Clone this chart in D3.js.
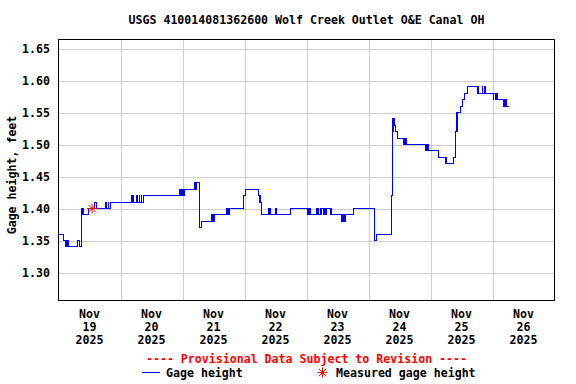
<!DOCTYPE html>
<html>
<head>
<meta charset="utf-8">
<script src="https://cdn.jsdelivr.net/npm/d3@7"></script>
<style>
  html, body { margin: 0; padding: 0; background: #fff; }
  svg { display: block; }
  text { font-family: "DejaVu Sans Mono", monospace; font-weight: bold; font-size: 11.6px; }
</style>
</head>
<body>
<svg id="chart" width="576" height="384"></svg>
<script>
const title = "USGS 410014081362600 Wolf Creek Outlet O&E Canal OH";
const yAxisTitle = "Gage height, feet";
const yTicks = [1.30, 1.35, 1.40, 1.45, 1.50, 1.55, 1.60, 1.65];
const dayLabels = ["2025-11-19", "2025-11-20", "2025-11-21", "2025-11-22", "2025-11-23", "2025-11-24", "2025-11-25", "2025-11-26"];

const gageTimes = [
  "2025-11-19 00:00","2025-11-19 02:00","2025-11-19 02:45","2025-11-19 03:00","2025-11-19 03:15","2025-11-19 03:30",
  "2025-11-19 03:45","2025-11-19 07:30","2025-11-19 08:00","2025-11-19 09:00","2025-11-19 09:30","2025-11-19 11:30",
  "2025-11-19 14:00","2025-11-19 14:45","2025-11-19 18:15","2025-11-19 18:45","2025-11-19 19:15","2025-11-19 19:30",
  "2025-11-19 20:00","2025-11-20 04:15","2025-11-20 04:30","2025-11-20 04:45","2025-11-20 05:00","2025-11-20 06:15",
  "2025-11-20 06:30","2025-11-20 07:15","2025-11-20 07:30","2025-11-20 08:00","2025-11-20 08:15","2025-11-20 08:45",
  "2025-11-20 23:00","2025-11-20 23:15","2025-11-20 23:30","2025-11-20 23:45","2025-11-21 00:00","2025-11-21 00:15",
  "2025-11-21 00:45","2025-11-21 04:45","2025-11-21 05:00","2025-11-21 05:30","2025-11-21 06:30","2025-11-21 07:15",
  "2025-11-21 11:15","2025-11-21 11:30","2025-11-21 11:45","2025-11-21 12:00","2025-11-21 12:30","2025-11-21 17:00",
  "2025-11-21 17:15","2025-11-21 17:30","2025-11-21 17:45","2025-11-21 18:15","2025-11-21 23:30","2025-11-21 23:45",
  "2025-11-22 00:30","2025-11-22 05:15","2025-11-22 06:00","2025-11-22 06:30","2025-11-22 09:30","2025-11-22 10:00",
  "2025-11-22 12:00","2025-11-22 12:30","2025-11-22 17:45","2025-11-23 00:15","2025-11-23 00:30","2025-11-23 00:45",
  "2025-11-23 01:15","2025-11-23 01:30","2025-11-23 04:00","2025-11-23 04:15","2025-11-23 04:30","2025-11-23 04:45",
  "2025-11-23 05:15","2025-11-23 05:30","2025-11-23 05:45","2025-11-23 06:45","2025-11-23 07:00","2025-11-23 07:30",
  "2025-11-23 07:45","2025-11-23 09:15","2025-11-23 09:30","2025-11-23 09:45","2025-11-23 13:45","2025-11-23 14:00",
  "2025-11-23 14:30","2025-11-23 15:00","2025-11-23 18:15","2025-11-24 02:15","2025-11-24 03:00","2025-11-24 08:45",
  "2025-11-24 09:15","2025-11-24 09:30","2025-11-24 10:00","2025-11-24 10:30","2025-11-24 11:15","2025-11-24 13:45",
  "2025-11-24 14:00","2025-11-24 14:30","2025-11-24 22:15","2025-11-24 23:00","2025-11-24 23:15","2025-11-25 03:00",
  "2025-11-25 06:00","2025-11-25 08:45","2025-11-25 09:45","2025-11-25 10:15","2025-11-25 11:30","2025-11-25 12:30",
  "2025-11-25 13:00","2025-11-25 14:15","2025-11-25 18:15","2025-11-25 18:30","2025-11-25 18:45","2025-11-25 20:00",
  "2025-11-25 20:15","2025-11-25 21:00","2025-11-25 21:15","2025-11-26 00:15","2025-11-26 00:30","2025-11-26 01:00",
  "2025-11-26 01:15","2025-11-26 01:45","2025-11-26 04:15","2025-11-26 04:30","2025-11-26 04:45","2025-11-26 05:00",
  "2025-11-26 05:15","2025-11-26 06:30"
];
const gageValues = [
  1.36,1.35,1.34,1.35,1.34,1.35,
  1.34,1.35,1.34,1.40,1.39,1.40,
  1.41,1.40,1.41,1.40,1.41,1.40,
  1.41,1.42,1.41,1.42,1.41,1.42,
  1.41,1.42,1.41,1.42,1.41,1.42,
  1.43,1.42,1.43,1.42,1.43,1.42,
  1.43,1.44,1.43,1.44,1.37,1.38,
  1.39,1.38,1.39,1.38,1.39,1.40,
  1.39,1.40,1.39,1.40,1.41,1.42,
  1.43,1.42,1.41,1.39,1.40,1.39,
  1.40,1.39,1.40,1.39,1.40,1.39,
  1.40,1.39,1.40,1.39,1.40,1.39,
  1.40,1.39,1.40,1.39,1.40,1.39,
  1.40,1.39,1.40,1.39,1.38,1.39,
  1.38,1.39,1.40,1.35,1.36,1.42,
  1.52,1.54,1.53,1.52,1.51,1.50,
  1.51,1.50,1.49,1.50,1.49,1.48,
  1.47,1.48,1.52,1.55,1.56,1.57,
  1.58,1.59,1.58,1.59,1.58,1.59,
  1.58,1.59,1.58,1.57,1.58,1.57,
  1.58,1.57,1.56,1.57,1.56,1.57,
  1.56,1.56
];
const measTimes = ["2025-11-19 13:00"];
const measValues = [1.40];

const parse = d3.timeParse("%Y-%m-%d %H:%M");
const parseDay = d3.timeParse("%Y-%m-%d");
const gage = gageTimes.map((t, i) => ({ t: parse(t), v: gageValues[i] }));
const meas = measTimes.map((t, i) => ({ t: parse(t), v: measValues[i] }));

const svg = d3.select("#chart");
const L = 58.5, R = 554.5, T = 39.5, B = 300.5;

const x = d3.scaleTime()
  .domain([parse("2025-11-19 00:00"), parse("2025-11-27 00:00")])
  .range([L, R]);
const y = d3.scaleLinear()
  .domain([1.25625, 1.6641])
  .range([B, T]);

// title
svg.append("text").attr("x", (L + R) / 2).attr("y", 24).attr("text-anchor", "middle").text(title);

// gridlines
const gridDays = d3.timeDay.range(parse("2025-11-20 00:00"), parse("2025-11-27 00:00"));
svg.append("g").selectAll("line").data(gridDays).join("line")
  .attr("x1", d => Math.round(x(d)) + 0.5).attr("x2", d => Math.round(x(d)) + 0.5)
  .attr("y1", T).attr("y2", B)
  .attr("stroke", "#cccccc").attr("stroke-width", 1);
svg.append("g").selectAll("line").data(yTicks).join("line")
  .attr("x1", L).attr("x2", R)
  .attr("y1", d => Math.round(y(d)) + 0.5).attr("y2", d => Math.round(y(d)) + 0.5)
  .attr("stroke", "#cccccc").attr("stroke-width", 1);

// y tick labels
svg.append("g").selectAll("text").data(yTicks).join("text")
  .attr("x", 50).attr("y", d => y(d) + 4)
  .attr("text-anchor", "end")
  .text(d => d3.format(".2f")(d));

// x tick labels (centered at noon)
const fmtMon = d3.timeFormat("%b"), fmtDay = d3.timeFormat("%d"), fmtYear = d3.timeFormat("%Y");
const xl = svg.append("g").selectAll("text").data(dayLabels.map(parseDay)).join("text")
  .attr("text-anchor", "middle")
  .attr("transform", d => `translate(${x(d3.timeHour.offset(d, 12))},0)`);
xl.append("tspan").attr("x", 0).attr("y", 318).text(d => fmtMon(d));
xl.append("tspan").attr("x", 0).attr("y", 331).text(d => fmtDay(d));
xl.append("tspan").attr("x", 0).attr("y", 344).text(d => fmtYear(d));

// y axis title
svg.append("text")
  .attr("transform", `translate(16,175) rotate(-90)`)
  .attr("text-anchor", "middle")
  .text(yAxisTitle);

// data line
const line = d3.line().x(d => x(d.t)).y(d => y(d.v)).curve(d3.curveStepAfter);
svg.append("path").datum(gage)
  .attr("d", line)
  .attr("fill", "none")
  .attr("stroke", "#0000ff")
  .attr("stroke-width", 1.1)
  .attr("shape-rendering", "crispEdges");

// asterisk marker
function asterisk(cx, cy, r) {
  const d = r * 0.75;
  return `M${cx - r},${cy}L${cx + r},${cy}M${cx},${cy - r}L${cx},${cy + r}` +
         `M${cx - d},${cy - d}L${cx + d},${cy + d}M${cx - d},${cy + d}L${cx + d},${cy - d}`;
}
svg.append("g").selectAll("path").data(meas).join("path")
  .attr("d", d => asterisk(x(d.t), y(d.v), 5))
  .attr("stroke", "#ff0000").attr("stroke-width", 1).attr("fill", "none");

// frame
svg.append("rect").attr("x", L).attr("y", T).attr("width", R - L).attr("height", B - T)
  .attr("fill", "none").attr("stroke", "#000").attr("stroke-width", 1);

// legend
svg.append("text").attr("x", (L + R) / 2).attr("y", 363).attr("text-anchor", "middle")
  .attr("fill", "#ff0000").text("---- Provisional Data Subject to Revision ----");
svg.append("line").attr("x1", 142).attr("x2", 160).attr("y1", 372.5).attr("y2", 372.5)
  .attr("stroke", "#0000ff").attr("stroke-width", 1);
svg.append("text").attr("x", 166).attr("y", 377).text("Gage height");
svg.append("path").attr("d", asterisk(322.5, 372.5, 5))
  .attr("stroke", "#ff0000").attr("stroke-width", 1).attr("fill", "none");
svg.append("text").attr("x", 336).attr("y", 377).text("Measured gage height");
</script>
</body>
</html>
